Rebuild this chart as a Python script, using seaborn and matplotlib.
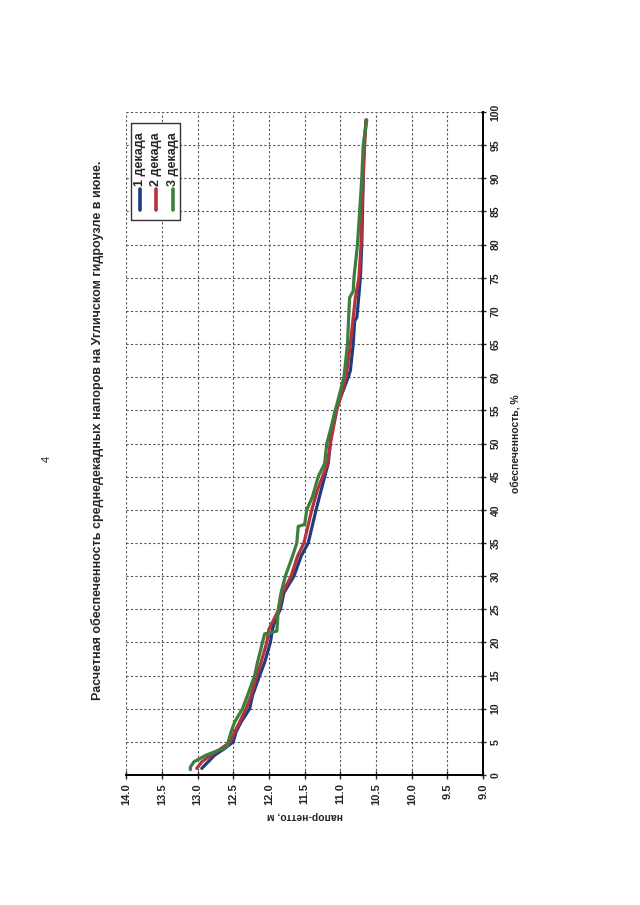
import matplotlib
matplotlib.use('Agg')
import matplotlib.pyplot as plt
from matplotlib.patches import Rectangle
from matplotlib.lines import Line2D
import seaborn as sns
import numpy as np
import pandas as pd

# Data (page is rotated: head runs along the bottom, provision up the right side)
decades = ['1 декада', '2 декада', '3 декада']
colors = ['#1f3c80', '#b5323a', '#3d7d3d']

p1 = [1, 2, 3, 4, 5, 6.5, 8, 10, 12, 15, 17, 20, 22, 23.5, 25, 27.5, 30, 33, 35, 40, 45,
      47, 50, 52, 55, 58, 60, 61, 65, 68.5, 69, 70, 75, 80, 85, 90, 95, 98.8]
h1 = [12.94, 12.85, 12.76, 12.62, 12.50, 12.46, 12.39, 12.27, 12.23, 12.13, 12.06, 11.98,
      11.95, 11.91, 11.84, 11.79, 11.65, 11.55, 11.45, 11.34, 11.22, 11.17, 11.14, 11.13,
      11.07, 10.96, 10.89, 10.86, 10.82, 10.80, 10.77, 10.76, 10.72, 10.70, 10.69, 10.68,
      10.67, 10.64]

p2 = [1, 2, 3, 4, 5, 6.5, 8, 10, 12, 15, 17, 20, 22, 25, 27.5, 30, 33, 35, 40, 43, 45,
      47, 50, 55, 60, 65, 70, 72, 75, 80, 85, 90, 95, 98.8]
h2 = [13.01, 12.94, 12.81, 12.67, 12.54, 12.48, 12.41, 12.32, 12.25, 12.17, 12.11, 12.03,
      12.00, 11.86, 11.81, 11.69, 11.60, 11.51, 11.40, 11.32, 11.25, 11.18, 11.14, 11.05,
      10.92, 10.86, 10.81, 10.79, 10.74, 10.71, 10.70, 10.68, 10.66, 10.64]

p3 = [0.8, 1.2, 2, 3, 4, 4.5, 5, 6.5, 8, 10, 12, 15, 17, 20, 21.3, 21.7, 23, 25, 27.5, 30,
      33, 35, 37.5, 37.8, 40, 42, 45, 47, 50, 52, 55, 60, 65, 70, 72, 73, 75, 80, 85, 90,
      95, 98.8]
h3 = [13.10, 13.10, 13.05, 12.88, 12.64, 12.57, 12.57, 12.53, 12.48, 12.37, 12.30, 12.20,
      12.16, 12.09, 12.06, 11.89, 11.88, 11.87, 11.83, 11.77, 11.67, 11.61, 11.59, 11.50,
      11.47, 11.39, 11.31, 11.22, 11.19, 11.14, 11.07, 10.95, 10.90, 10.88, 10.87, 10.82,
      10.81, 10.76, 10.73, 10.70, 10.68, 10.63]

title = 'Расчетная обеспеченность среднедекадных напоров на Угличском гидроузле в июне.'
head_ticks = np.arange(9.0, 14.01, 0.5)
prov_ticks = np.arange(0, 101, 5)

df = pd.concat([
    pd.DataFrame({'head': h1, 'prov': p1, 'decade': decades[0]}),
    pd.DataFrame({'head': h2, 'prov': p2, 'decade': decades[1]}),
    pd.DataFrame({'head': h3, 'prov': p3, 'decade': decades[2]}),
])

sns.set_style('white')
plt.rcParams['font.family'] = ['Liberation Sans', 'DejaVu Sans']

fig = plt.figure(figsize=(6.4, 9.05), dpi=100)
ax = fig.add_axes([0.197, 0.1436, 0.558, 0.7326])

sns.lineplot(data=df, x='head', y='prov', hue='decade', palette=colors,
             sort=False, estimator=None, linewidth=2.3, legend=False, ax=ax)

ax.set_xlim(14, 9)
ax.set_ylim(0, 100)
ax.set_xticks(head_ticks)
ax.set_xticklabels([f'{t:.1f}' for t in head_ticks], rotation=90,
                   fontsize=8, fontweight='bold')
ax.yaxis.tick_right()
ax.set_yticks(prov_ticks)
ax.set_yticklabels([str(t) for t in prov_ticks], rotation=90, va='center',
                   fontsize=7.5, fontweight='bold')
ax.tick_params(axis='x', direction='inout', length=6, width=1, pad=3, bottom=True)
ax.tick_params(axis='y', direction='inout', length=5, width=1, pad=3, right=True)

ax.grid(True, color='#555555', linestyle=(0, (2, 2)), linewidth=0.8)
for s in ['left', 'top']:
    ax.spines[s].set_visible(False)
for s in ['right', 'bottom']:
    ax.spines[s].set_color('black')
    ax.spines[s].set_linewidth(1.4)

ax.set_xlabel('напор-нетто, м', rotation=180, fontsize=7.5, fontweight='bold', labelpad=4)
ax.yaxis.set_label_position('right')
ax.set_ylabel('обеспеченность, %', rotation=90, fontsize=7.5, fontweight='bold', labelpad=8)

# legend drawn rotated, like the scanned page
ax.add_patch(Rectangle((0.014, 0.837), 0.137, 0.146, transform=ax.transAxes,
                       facecolor='white', edgecolor='#333333', linewidth=1, zorder=5))
for i, (name, c) in enumerate(zip(decades, colors)):
    xx = 0.039 + 0.046 * i
    ax.add_line(Line2D([xx, xx], [0.852, 0.884], transform=ax.transAxes,
                       color=c, linewidth=2.6, solid_capstyle='round', zorder=6))
    ax.text(xx, 0.889, name, transform=ax.transAxes, rotation=90, ha='center',
            va='bottom', fontsize=9, fontweight='bold', zorder=6)

fig.text(0.152, 0.525, title, rotation=90, ha='center', va='center',
         fontsize=9, fontweight='bold')
fig.text(0.073, 0.493, '4', rotation=90, ha='center', va='center', fontsize=8)

fig.savefig('out.png', dpi=100)
